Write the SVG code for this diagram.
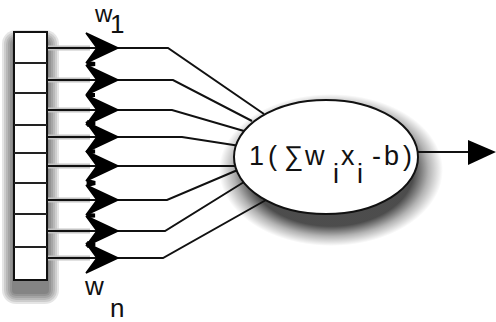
<svg xmlns="http://www.w3.org/2000/svg" width="496" height="322" viewBox="0 0 496 322">
<style>
.t{font-family:"Liberation Sans",Arial,sans-serif;fill:#111;}
.in{fill:none;stroke:#111;stroke-width:2;}
.halo{fill:none;stroke:#c4c4c4;stroke-width:5;}
.ah{fill:#000;stroke:#000;stroke-width:1.5;stroke-linejoin:miter;}
.zz{fill:none;stroke:#000;stroke-width:4;stroke-linejoin:miter;}
.cell{fill:#fff;stroke:#111;stroke-width:2;}
.dv{stroke:#222;stroke-width:2;}
.bs{fill:#000;fill-opacity:0.1;}
</style>
<defs>
<radialGradient id="eg" cx="0.5" cy="0.5" r="0.5">
<stop offset="0.74" stop-color="#000" stop-opacity="0.7"/>
<stop offset="0.87" stop-color="#000" stop-opacity="0.3"/>
<stop offset="1" stop-color="#000" stop-opacity="0"/>
</radialGradient>
<path id="wa" class="ah" d="M0,0 L-32,-15 L-21,0 L-32,15 Z"/>
</defs>
<rect width="496" height="322" fill="#fff"/>

<g id="shadows">
<rect class="bs" x="2" y="30" width="57" height="274" rx="14"/>
<rect class="bs" x="4" y="32" width="53" height="270" rx="12"/>
<rect class="bs" x="6" y="34" width="49" height="266" rx="10"/>
<rect class="bs" x="8" y="36" width="45" height="262" rx="8"/>
<rect class="bs" x="10" y="38" width="41" height="258" rx="6"/>
<rect class="bs" x="12" y="40" width="37" height="254" rx="4"/>
<ellipse cx="331" cy="170" rx="112" ry="76" fill="url(#eg)"/>
</g>

<g id="connectors">
<path class="halo" d="M47,48 H90 M47,80 H90 M47,110 H90 M47,137 H90 M47,166 H90 M47,200 H90 M47,231 H90 M47,258 H90"/>
<path class="in" d="M47,48 H168 L264,114"/>
<path class="in" d="M47,80 H173 L252,121"/>
<path class="in" d="M47,110 H172 L244,131"/>
<path class="in" d="M47,137 H182 L240,146"/>
<path class="in" d="M47,166 H240"/>
<path class="in" d="M47,200 H167 L240,169"/>
<path class="in" d="M47,231 H165 L244,182"/>
<path class="in" d="M47,258 H163 L266,200"/>
<use href="#wa" x="118" y="48"/>
<use href="#wa" x="118" y="80"/>
<use href="#wa" x="118" y="110"/>
<use href="#wa" x="118" y="137"/>
<use href="#wa" x="118" y="166"/>
<use href="#wa" x="118" y="200"/>
<use href="#wa" x="118" y="231"/>
<use href="#wa" x="118" y="258"/>
<path class="zz" d="M87,63 L95,64 L87,65 M87,95 L95,95 L87,95 M87,125 L95,123.5 L87,122 M87,152 L95,151.5 L87,151 M87,181 L95,183 L87,185 M87,215 L95,215.5 L87,216 M87,246 L95,244.5 L87,243"/>
<path class="in" d="M417,152 H470"/>
<path fill="#000" d="M496,152 L468,140 L468,165 Z"/>
</g>

<g id="inputs">
<rect class="cell" x="14" y="32" width="33" height="248"/>
<line class="dv" x1="14" y1="63" x2="47" y2="63"/>
<line class="dv" x1="14" y1="93" x2="47" y2="93"/>
<line class="dv" x1="14" y1="125" x2="47" y2="125"/>
<line class="dv" x1="14" y1="153" x2="47" y2="153"/>
<line class="dv" x1="14" y1="183" x2="47" y2="183"/>
<line class="dv" x1="14" y1="214" x2="47" y2="214"/>
<line class="dv" x1="14" y1="247" x2="47" y2="247"/>
</g>

<g id="neuron">
<ellipse cx="326" cy="157" rx="92" ry="57" fill="#fff" stroke="#111" stroke-width="2"/>
<text class="t" font-size="27" y="165"><tspan x="249">1</tspan><tspan x="268">(</tspan><tspan x="284">∑</tspan><tspan x="305">w</tspan><tspan x="333" y="183">i</tspan><tspan x="341" y="165">x</tspan><tspan x="357" y="183">i</tspan><tspan x="372" y="165">-</tspan><tspan x="384">b</tspan><tspan x="403">)</tspan></text>
</g>

<g id="label-w1">
<text class="t" font-size="24" x="95" y="22">w</text>
<text class="t" font-size="26" x="110" y="33">1</text>
</g>
<g id="label-wn">
<text class="t" font-size="26" x="85" y="295">w</text>
<text class="t" font-size="26" x="110" y="317">n</text>
</g>
</svg>
